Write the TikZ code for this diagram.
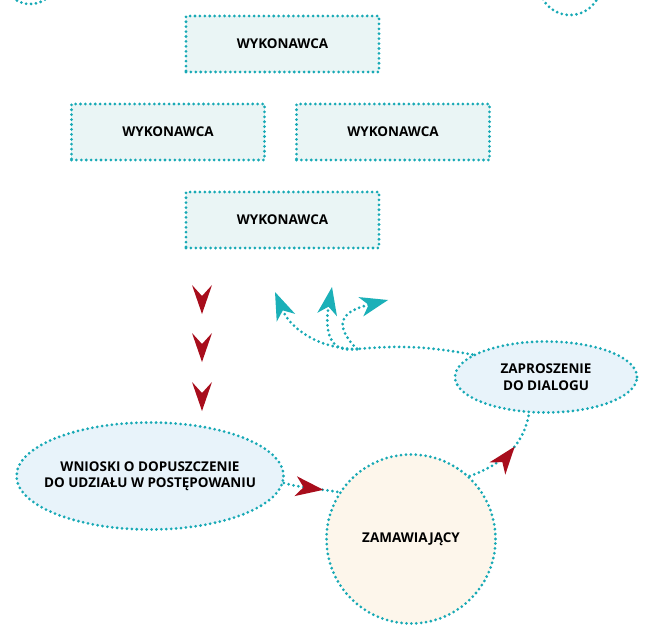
\documentclass[tikz,border=0pt]{standalone}
\usepackage{fontspec}
\setmainfont{Open Sans}
\usetikzlibrary{shapes.geometric,arrows.meta,decorations.markings}

\definecolor{dotcol}{HTML}{17A9B5}
\definecolor{boxfill}{HTML}{EAF5F5}
\definecolor{ovalfill}{HTML}{E8F3FA}
\definecolor{roundfill}{HTML}{FDF6EB}
\definecolor{xred}{HTML}{A80D1C}
\definecolor{cyanhead}{HTML}{1BB0B8}

\newcommand{\diagfont}{\fontsize{11.5}{14}\selectfont\bfseries}

\tikzset{
  dotline/.style={draw=dotcol, line width=2.6pt, line cap=round, dash pattern=on 0pt off 4.2pt},
  box/.style={dotline, fill=boxfill, minimum width=5.79cm, minimum height=1.68cm, inner sep=0pt, font=\diagfont},
  oval/.style={dotline, ellipse, fill=ovalfill, inner sep=0pt, align=center, font=\diagfont},
  round/.style={dotline, circle, fill=roundfill, minimum size=5.07cm, inner sep=0pt, font=\diagfont},
  redtip/.tip={Stealth[length=0.84cm, width=0.6cm, inset=0.24cm, line width=0pt, color=xred]},
  cyantip/.tip={Stealth[length=0.84cm, width=0.6cm, inset=0.24cm, line width=0pt, color=cyanhead]},
}

\begin{document}
\begin{tikzpicture}[x=0.03cm, y=0.03cm]
    \useasboundingbox (0,0) rectangle (650,635);

    % cut circles at the top
    \begin{scope}
      \clip (0,0) rectangle (650,635);
      \draw[dotline] (30,659) circle (28);
      \draw[dotline] (570,651) circle (31);
    \end{scope}

    % contractors
    \node[box] (w1) at (282.5,591) {WYKONAWCA};
    \node[box] (w2) at (168,503) {WYKONAWCA};
    \node[box] (w3) at (393,503) {WYKONAWCA};
    \node[box] (w4) at (282.5,415) {WYKONAWCA};

    % red heads below
    \foreach \y in {350,302,253}
      \fill[xred] (192,\y) -- (202,\y-11) -- (212,\y) -- (202,\y-29) -- cycle;

    % ovals and the buyer
    \node[oval, inner xsep=-0.2cm, minimum width=5.46cm, minimum height=2.13cm] (zap) at (546,258) {ZAPROSZENIE\\DO DIALOGU};
    \node[oval, inner xsep=-0.45cm, minimum width=8.01cm, minimum height=3.21cm] (wn) at (150,159) {WNIOSKI O DOPUSZCZENIE\\DO UDZIAŁU W POSTĘPOWANIU};
    \node[round] (zam) at (411,96) {ZAMAWIAJĄCY};

    % red connectors
    \draw[dotline, postaction={decorate, decoration={markings, mark=at position 0.72 with {\arrow{redtip}}}}]
      (wn.-3) to[out=-15, in=170] (zam.147);
    \draw[dotline, postaction={decorate, decoration={markings, mark=at position 0.6 with {\arrow{redtip}}}}]
      (zam.47) to[out=20, in=-100] (zap.245);

    % invitation going out
    \coordinate (hub) at (357,286);
    \coordinate (t1) at (275,343);
    \coordinate (t2) at (332,348);
    \coordinate (t3) at (388,335);
    \draw[dotline] (zap.163) to[out=170, in=5] (hub);
    \draw[dotline, -cyantip] (hub) to[out=180, in=-67] (t1);
    \draw[dotline, -cyantip] (hub) to[out=190, in=-100, looseness=1.3] (t2);
    \draw[dotline, -cyantip] (hub) to[out=135, in=194, looseness=1.8] (t3);
\end{tikzpicture}
\end{document}
